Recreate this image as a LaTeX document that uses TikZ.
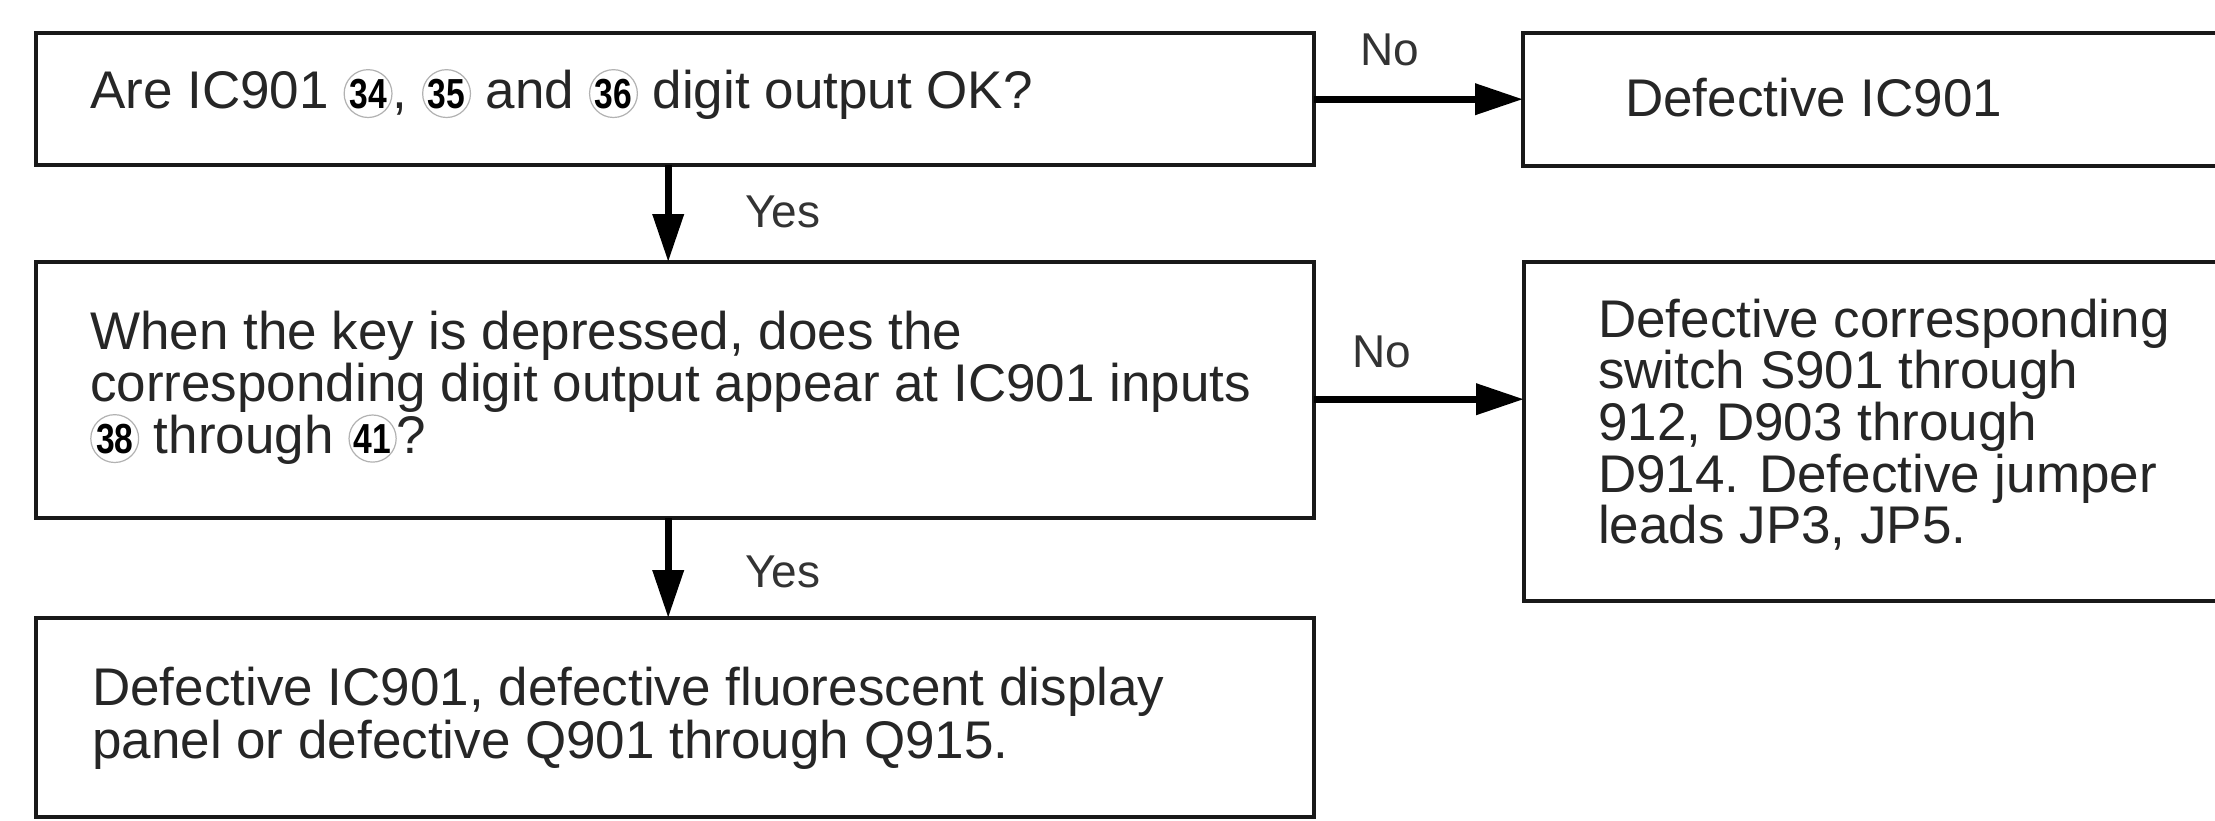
\documentclass[tikz,border=0pt]{standalone}
\usepackage{fontspec}
\usepackage{graphicx}
\setmainfont{Liberation Sans}
\usetikzlibrary{arrows.meta}
\newcommand\cnum[1]{\tikz[baseline=(cn.base),x=1cm,y=1cm]\node[circle,draw=black!30,line width=1.2pt,inner sep=0pt,text=black,font=\bfseries\fontsize{42}{42}\selectfont] (cn) {\scalebox{0.8}[1]{#1}};}
\tikzset{
  box/.style={draw=black!90,line width=3.5pt},
  txt/.style={anchor=base west,inner sep=0pt,text=black!85,font=\fontsize{53}{53}\selectfont},
  lbl/.style={anchor=base west,inner sep=0pt,text=black!80,font=\fontsize{46}{46}\selectfont},
  flow/.style={line width=7pt,-{Triangle[length=48pt,width=30pt]}}
}
\begin{document}
\begin{tikzpicture}[x=1pt,y=-1pt]
\useasboundingbox (0,0) rectangle (2215,820);
\fill[white] (0,0) rectangle (2215,820);
% boxes
\draw[box] (36,33) rectangle (1314,165);
\node[inner sep=0pt,minimum width=1278pt,minimum height=132pt,anchor=north west] (b1) at (36,33) {};
\draw[box] (1523,33) rectangle (2240,166);
\node[inner sep=0pt,minimum width=717pt,minimum height=133pt,anchor=north west] (b2) at (1523,33) {};
\draw[box] (36,262) rectangle (1314,518);
\node[inner sep=0pt,minimum width=1278pt,minimum height=256pt,anchor=north west] (b3) at (36,262) {};
\draw[box] (1524,262) rectangle (2240,601);
\node[inner sep=0pt,minimum width=716pt,minimum height=339pt,anchor=north west] (b4) at (1524,262) {};
\draw[box] (36,618) rectangle (1314,817);
\node[inner sep=0pt,minimum width=1278pt,minimum height=199pt,anchor=north west] (b5) at (36,618) {};
% texts
\node[txt] (t1) at (90,108) {Are IC901 \cnum{34}, \cnum{35} and \cnum{36} digit output OK?};
\node[txt] (t2) at (1625,116) {Defective IC901};
\node[txt] (t3a) at (90,349) {When the key is depressed, does the};
\node[txt] (t3b) at (90,401) {corresponding digit output appear at IC901 inputs};
\node[txt] (t3c) at (90,453) {\cnum{38} through \cnum{41}?};
\node[txt] (t4a) at (1598,337) {Defective corresponding};
\node[txt] (t4b) at (1598,388) {switch S901 through};
\node[txt] (t4c) at (1598,440) {912, D903 through};
\node[txt] (t4d) at (1598,492) {D914. Defective jumper};
\node[txt] (t4e) at (1598,543) {leads JP3, JP5.};
\node[txt] (t5a) at (92,705) {Defective IC901, defective fluorescent display};
\node[txt] (t5b) at (92,758) {panel or defective Q901 through Q915.};
% connectors
\draw[flow] (b1.east) -- (b1.east -| b2.west);
\draw[flow] ([yshift=-9pt]b3.east) -- ([yshift=-9pt]b3.east -| b4.west);
\draw[flow] ([xshift=-7pt]b1.south) -- ([xshift=-7pt]b1.south |- b3.north);
\draw[flow] ([xshift=-7pt]b3.south) -- ([xshift=-7pt]b3.south |- b5.north);
% labels
\node[lbl] (no1) at (1360,65) {No};
\node[lbl] (no2) at (1352,367) {No};
\node[lbl] (yes1) at (745,227) {Yes};
\node[lbl] (yes2) at (745,587) {Yes};
\end{tikzpicture}
\end{document}
